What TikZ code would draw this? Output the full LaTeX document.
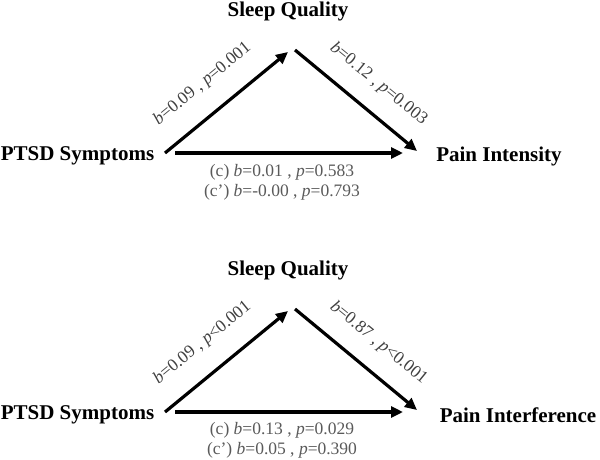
\documentclass[tikz,border=0pt]{standalone}
\usepackage{fontspec}
\setmainfont{Liberation Serif}
\usetikzlibrary{arrows.meta}
\definecolor{lblgray}{HTML}{404040}
\definecolor{cgray}{HTML}{5A5A5A}
\tikzset{
  var/.style={font=\fontsize{21}{24}\selectfont\bfseries, inner sep=0pt, text=black},
  path/.style={line width=3.2pt, -{Triangle[length=12pt,width=11pt]}},
  coef/.style={font=\fontsize{17.5}{20}\selectfont, text=lblgray, inner sep=0pt},
  direct/.style={font=\fontsize{17.5}{20}\selectfont, text=cgray, align=center, inner sep=0pt}
}
\begin{document}
\begin{tikzpicture}[x=1pt,y=-1pt]
\useasboundingbox (0,0) rectangle (600,459);
% ---------- top panel ----------
\node[var] (sq1) at (288,11) {Sleep Quality};
\node[var] (pt1) at (77.5,156) {PTSD Symptoms};
\node[var] (pi1) at (499,156) {Pain Intensity};
\coordinate (a1s) at (165,153);
\coordinate (a1e) at (288,52);
\coordinate (b1s) at (295,50);
\coordinate (b1e) at (417,151);
\coordinate (c1s) at (175,153);
\coordinate (c1e) at (403,153);
\draw[path] (a1s) -- (a1e);
\draw[path] (b1s) -- (b1e);
\draw[path] (c1s) -- (c1e);
\node[coef, rotate=39.4] (l1a) at (202.5,84) {\textit{b}=0.09 , \textit{p}=0.001};
\node[coef, rotate=-39.3] (l1b) at (378.5,84) {\textit{b}=0.12 , \textit{p}=0.003};
\node[direct] (d1) at (282,182) {(c) \textit{b}=0.01 , \textit{p}=0.583\\(c') \textit{b}=-0.00 , \textit{p}=0.793};
% ---------- bottom panel ----------
\begin{scope}[yshift=-259pt]
\node[var] (sq2) at (288,11) {Sleep Quality};
\node[var] (pt2) at (77.5,156) {PTSD Symptoms};
\node[var] (pi2) at (518,156) {Pain Interference};
\coordinate (a2s) at (165,153);
\coordinate (a2e) at (288,52);
\coordinate (b2s) at (295,50);
\coordinate (b2e) at (417,151);
\coordinate (c2s) at (175,153);
\coordinate (c2e) at (403,153);
\draw[path] (a2s) -- (a2e);
\draw[path] (b2s) -- (b2e);
\draw[path] (c2s) -- (c2e);
\node[coef, rotate=39.4] (l2a) at (202.5,84) {\textit{b}=0.09 , \textit{p}\textless0.001};
\node[coef, rotate=-39.3] (l2b) at (378.5,84) {\textit{b}=0.87 , \textit{p}\textless0.001};
\node[direct] (d2) at (282,181) {(c) \textit{b}=0.13 , \textit{p}=0.029\\(c') \textit{b}=0.05 , \textit{p}=0.390};
\end{scope}
\end{tikzpicture}
\end{document}
